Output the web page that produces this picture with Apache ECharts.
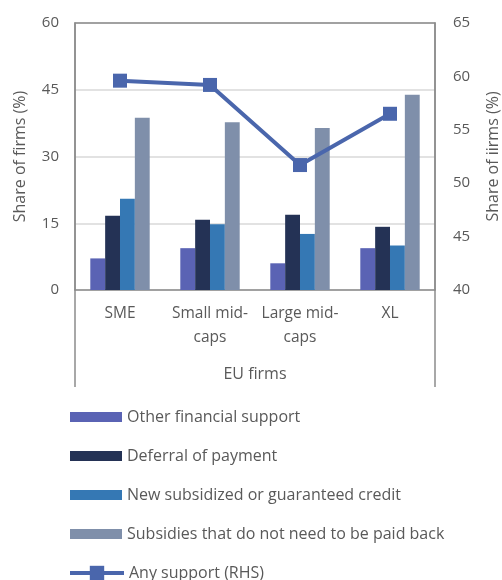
<!DOCTYPE html>
<html>
<head>
<meta charset="utf-8">
<script src="https://cdn.jsdelivr.net/npm/echarts@6/dist/echarts.min.js"></script>
<style>
  html, body { margin: 0; padding: 0; background: #fff; }
  #chart { width: 502px; height: 580px; }
</style>
</head>
<body>
<div id="chart"></div>
<script>
// categories and values
const categories = ['SME', 'Small mid-\ncaps', 'Large mid-\ncaps', 'XL']
const otherSupport = [7.1, 9.4, 6.0, 9.4]
const deferral = [16.7, 15.8, 16.9, 14.2]
const newCredit = [20.5, 14.8, 12.6, 10.0]
const subsidies = [38.7, 37.7, 36.4, 43.9]
const anySupport = [59.6, 59.2, 51.7, 56.5]
const leftTicks = { min: 0, max: 60, interval: 15 }
const rightTicks = { min: 40, max: 65, interval: 5 }

const font = '"Open Sans", sans-serif'
const textColor = '#595959'
const frameColor = '#8c8c8c'
const fontSize = 16
const tickSize = 15

const chart = echarts.init(document.getElementById('chart'))

const barSeries = (name, data, color) => ({
  name: name,
  type: 'bar',
  data: data,
  barGap: '0%',
  barCategoryGap: '34%',
  itemStyle: { color: color }
})

const legendText = { color: textColor, fontSize: fontSize, lineHeight: 20, fontFamily: font }

chart.setOption({
  animation: false,
  textStyle: { fontFamily: font },
  grid: { left: 75, right: 67, top: 23, bottom: 290, outerBoundsMode: 'none' },
  legend: [
    {
      orient: 'vertical',
      left: 65,
      top: 402,
      bottom: -100,
      itemWidth: 52,
      itemHeight: 10,
      itemGap: 19,
      textStyle: legendText,
      data: [
        { name: 'Other financial support', icon: 'rect' },
        { name: 'Deferral of payment', icon: 'rect' },
        { name: 'New subsidized or guaranteed credit', icon: 'rect' },
        { name: 'Subsidies that do not need to be paid back', icon: 'rect' }
      ]
    },
    {
      orient: 'vertical',
      left: 63,
      top: 558,
      bottom: -100,
      itemWidth: 54,
      itemHeight: 18,
      textStyle: legendText,
      data: [
        { name: 'Any support (RHS)', lineStyle: { width: 4 } }
      ]
    }
  ],
  xAxis: {
    type: 'category',
    data: categories,
    name: 'EU firms',
    nameLocation: 'middle',
    nameGap: 76,
    nameTextStyle: { color: textColor, fontSize: fontSize },
    axisLine: { lineStyle: { color: frameColor, width: 1.5 } },
    axisTick: { show: false },
    axisLabel: { color: textColor, fontSize: fontSize - 0.5, lineHeight: 24, margin: 12, interval: 0 }
  },
  yAxis: [
    {
      type: 'value',
      min: leftTicks.min,
      max: leftTicks.max,
      interval: leftTicks.interval,
      name: 'Share of firms (%)',
      nameLocation: 'middle',
      nameGap: 47,
      nameTextStyle: { color: textColor, fontSize: fontSize },
      axisLine: { show: true, lineStyle: { color: frameColor, width: 1.5 } },
      axisTick: { show: false },
      axisLabel: { color: textColor, fontSize: tickSize, margin: 16 },
      splitLine: { lineStyle: { color: '#d9d9d9', width: 1.5 } }
    },
    {
      type: 'value',
      min: rightTicks.min,
      max: rightTicks.max,
      interval: rightTicks.interval,
      position: 'right',
      name: 'Share of iirms (%)',
      nameLocation: 'middle',
      nameGap: 50,
      nameRotate: 90,
      nameTextStyle: { color: textColor, fontSize: fontSize },
      axisLine: { show: true, lineStyle: { color: frameColor, width: 1.5 } },
      axisTick: { show: false },
      axisLabel: { color: textColor, fontSize: tickSize, margin: 18 },
      splitLine: { show: false }
    }
  ],
  series: [
    barSeries('Other financial support', otherSupport, '#5a63b4'),
    barSeries('Deferral of payment', deferral, '#243255'),
    barSeries('New subsidized or guaranteed credit', newCredit, '#3578b4'),
    barSeries('Subsidies that do not need to be paid back', subsidies, '#7f8faa'),
    {
      name: 'Any support (RHS)',
      type: 'line',
      yAxisIndex: 1,
      data: anySupport,
      symbol: 'rect',
      symbolSize: 14,
      itemStyle: { color: '#4a66ac' },
      lineStyle: { color: '#4a66ac', width: 4 },
      z: 5
    }
  ],
  // frame of the plot area, continuing down past the category labels
  graphic: [
    {
      type: 'polyline',
      shape: { points: [[75, 387], [75, 23], [435, 23], [435, 387]] },
      style: { stroke: frameColor, lineWidth: 1.5, fill: null },
      z: 10,
      silent: true
    }
  ]
})
</script>
</body>
</html>
